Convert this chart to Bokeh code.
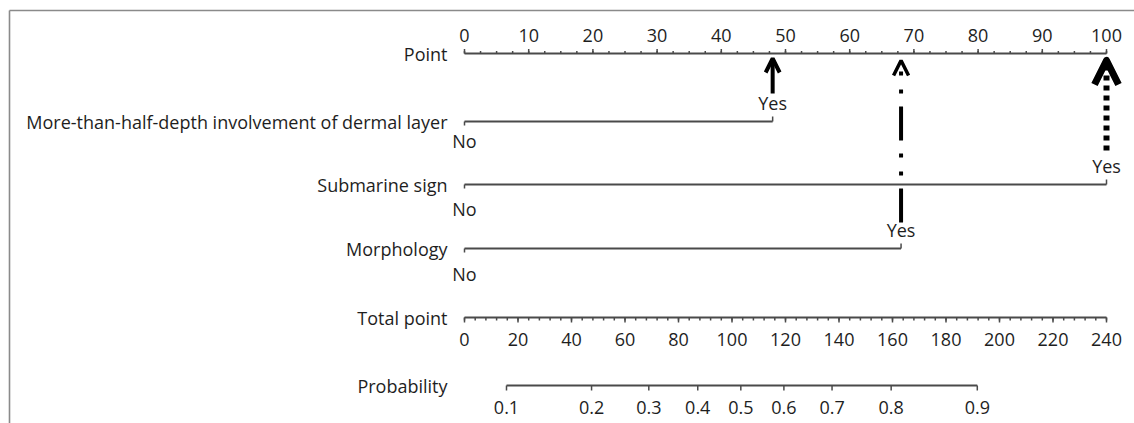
from bokeh.plotting import figure
from bokeh.models import Range1d, Arrow, OpenHead
from bokeh.embed import file_html
from bokeh.resources import INLINE
from bokeh.core.properties import value

# ---------------- data ----------------
point_major = [0, 10, 20, 30, 40, 50, 60, 70, 80, 90, 100]
point_minor = [i * 2.5 for i in range(41)]
variables = ["More-than-half-depth involvement of dermal layer", "Submarine sign", "Morphology"]
no_points = [0, 0, 0]
yes_points = [48, 100, 68]
no_labels = ["No", "No", "No"]
yes_labels = ["Yes", "Yes", "Yes"]
total_major = [0, 20, 40, 60, 80, 100, 120, 140, 160, 180, 200, 220, 240]
total_minor = list(range(0, 241, 4))
prob_labels = ["0.1", "0.2", "0.3", "0.4", "0.5", "0.6", "0.7", "0.8", "0.9"]
prob_at_total = [15.7, 47.5, 68.9, 87.2, 103.3, 119.4, 137.4, 159.5, 191.7]

# ---------------- layout ----------------
W, H = 1134, 423
X0_PX = 464.0          # pixel of point 0
PX_PER_POINT = 6.42    # pixels per point
TOTAL_MAX = 240.0
POINT_MAX = 100.0
PX_PER_TOTAL = PX_PER_POINT * POINT_MAX / TOTAL_MAX

Y_POINT = 53
Y_ROWS = [121, 184, 248]
NO_DY = [19, 24, 25]
Y_TOTAL = 317
Y_PROB = 385

FONT = "Open Sans"
TXT = "#1e1e1e"
LINE = "#4a4a4a"
LBL_SIZE = "18px"
TICK_SIZE = "18px"

p = figure(width=W, height=H, output_backend="svg", toolbar_location=None,
           x_axis_location=None, y_axis_location=None,
           x_range=Range1d(-X0_PX / PX_PER_POINT, (W - X0_PX) / PX_PER_POINT),
           y_range=Range1d(H, 0), min_border=0)
p.extra_x_ranges = {"total": Range1d(-X0_PX / PX_PER_TOTAL, (W - X0_PX) / PX_PER_TOTAL)}
p.grid.visible = False
p.outline_line_color = None
p.background_fill_color = "white"
p.border_fill_color = "white"

# frame border (left and top)
bx = (9 - X0_PX) / PX_PER_POINT
bx2 = (W - X0_PX) / PX_PER_POINT
p.line(x=[bx, bx], y=[H, 10], line_color="#8a8a8a", line_width=1.6)
p.line(x=[bx, bx2], y=[10, 10], line_color="#8a8a8a", line_width=1.6)

def txt(xs, ys, labels, size, align="center", x_offset=0, rng="default"):
    p.text(x=xs, y=ys, text=labels, text_align=align, text_baseline="middle",
           x_offset=x_offset, text_font=value(FONT), text_font_size=size,
           text_color=TXT, x_range_name=rng)

def left_label(label, y):
    txt([0], [y], [label], LBL_SIZE, align="right", x_offset=-17)

# ---------------- Point axis ----------------
p.line(x=[point_major[0], point_major[-1]], y=[Y_POINT, Y_POINT], line_color=LINE, line_width=1.8)
p.segment(x0=point_minor, y0=[Y_POINT] * len(point_minor), x1=point_minor,
          y1=[Y_POINT - 2.5] * len(point_minor), line_color=LINE, line_width=1.5)
p.segment(x0=point_major, y0=[Y_POINT] * len(point_major), x1=point_major,
          y1=[Y_POINT - 4.5] * len(point_major), line_color=LINE, line_width=1.5)
txt(point_major, [Y_POINT - 18] * len(point_major), [str(v) for v in point_major], TICK_SIZE)
left_label("Point", Y_POINT)

# ---------------- variable rows ----------------
for name, xn, xy, ln, ly, yr, nd in zip(variables, no_points, yes_points, no_labels, yes_labels, Y_ROWS, NO_DY):
    p.line(x=[xn, xy], y=[yr, yr], line_color=LINE, line_width=1.8)
    p.segment(x0=[xn], y0=[yr], x1=[xn], y1=[yr + 4], line_color=LINE, line_width=1.5)
    p.segment(x0=[xy], y0=[yr], x1=[xy], y1=[yr - 5], line_color=LINE, line_width=1.5)
    txt([xn], [yr + nd], [ln], LBL_SIZE)
    txt([xy], [yr - 19], [ly], LBL_SIZE)
    left_label(name, yr)

# ---------------- arrows ----------------
# solid arrow (row 1)
p.add_layout(Arrow(x_start=yes_points[0], y_start=Y_ROWS[0] - 28, x_end=yes_points[0], y_end=Y_POINT + 5,
                   line_color="black", line_width=4,
                   end=OpenHead(size=14, line_color="black", line_width=4)))
# dash-dot arrow (row 3)
p.add_layout(Arrow(x_start=yes_points[2], y_start=Y_ROWS[2] - 26, x_end=yes_points[2], y_end=Y_POINT + 7,
                   line_color="black", line_width=4, line_dash="34 13 4 14 4 13",
                   end=OpenHead(size=15, line_color="black", line_width=3.5)))
# dotted arrow (row 2)
p.add_layout(Arrow(x_start=yes_points[1], y_start=Y_ROWS[1] - 34, x_end=yes_points[1], y_end=Y_POINT + 7,
                   line_color="black", line_width=6, line_dash="5 5",
                   end=OpenHead(size=24, line_color="black", line_width=7, line_join="round")))

# ---------------- Total point axis ----------------
p.line(x=[total_major[0], total_major[-1]], y=[Y_TOTAL, Y_TOTAL], line_color=LINE, line_width=1.8,
       x_range_name="total")
p.segment(x0=total_minor, y0=[Y_TOTAL] * len(total_minor), x1=total_minor,
          y1=[Y_TOTAL + 3] * len(total_minor), line_color=LINE, line_width=1.5, x_range_name="total")
p.segment(x0=total_major, y0=[Y_TOTAL] * len(total_major), x1=total_major,
          y1=[Y_TOTAL + 5] * len(total_major), line_color=LINE, line_width=1.5, x_range_name="total")
txt(total_major, [Y_TOTAL + 22] * len(total_major), [str(v) for v in total_major], TICK_SIZE, rng="total")
left_label("Total point", Y_TOTAL)

# ---------------- Probability axis ----------------
p.line(x=[prob_at_total[0], prob_at_total[-1]], y=[Y_PROB, Y_PROB], line_color=LINE, line_width=1.8,
       x_range_name="total")
p.segment(x0=prob_at_total, y0=[Y_PROB] * len(prob_at_total), x1=prob_at_total,
          y1=[Y_PROB + 5] * len(prob_at_total), line_color=LINE, line_width=1.5, x_range_name="total")
txt(prob_at_total, [Y_PROB + 22] * len(prob_at_total), prob_labels, TICK_SIZE, rng="total")
left_label("Probability", Y_PROB)

open("out.html", "w").write(file_html(p, INLINE))
